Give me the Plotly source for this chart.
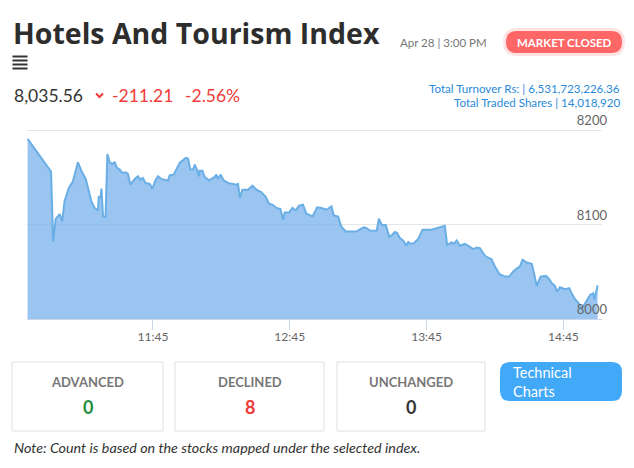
import plotly.graph_objects as go

# ---------------- data ----------------
DATE = "2025-04-28"
times = [
    "10:50:00", "11:00:18", "11:01:12", "11:02:18", "11:04:06", "11:05:12", "11:06:12", "11:08:06",
    "11:09:54", "11:12:06", "11:13:42", "11:15:30", "11:18:00", "11:19:24", "11:20:54", "11:21:12",
    "11:22:00", "11:22:24", "11:23:06", "11:24:12", "11:25:00", "11:26:00", "11:27:12", "11:28:12",
    "11:29:12", "11:30:24", "11:31:36", "11:33:00", "11:34:00", "11:35:06", "11:37:00", "11:38:24",
    "11:39:30", "11:40:36", "11:41:42", "11:43:36", "11:44:42", "11:46:12", "11:47:12", "11:48:42",
    "11:51:36", "11:52:18", "11:54:06", "11:55:18", "11:56:42", "11:59:24", "12:00:24", "12:01:24",
    "12:02:36", "12:03:18", "12:04:18", "12:05:12", "12:05:30", "12:06:42", "12:07:42", "12:09:36",
    "12:12:06", "12:12:48", "12:13:30", "12:14:42", "12:16:00", "12:17:54", "12:21:36", "12:22:18",
    "12:23:06", "12:24:12", "12:26:42", "12:28:36", "12:30:24", "12:32:36", "12:34:30", "12:35:54",
    "12:37:24", "12:39:12", "12:40:54", "12:42:06", "12:42:48", "12:44:42", "12:46:12", "12:47:36",
    "12:49:06", "12:50:48", "12:52:18", "12:55:00", "12:57:00", "12:58:54", "13:01:06", "13:03:18",
    "13:04:18", "13:06:12", "13:07:42", "13:09:36", "13:14:18", "13:15:24", "13:17:30", "13:18:42",
    "13:20:06", "13:23:06", "13:24:06", "13:25:18", "13:27:06", "13:28:36", "13:29:36", "13:31:06",
    "13:32:06", "13:33:18", "13:34:42", "13:36:12", "13:36:54", "13:37:42", "13:39:24", "13:41:18",
    "13:43:12", "13:47:12", "13:48:36", "13:51:36", "13:53:00", "13:54:00", "13:56:00", "13:57:00",
    "13:58:12", "13:59:36", "14:01:48", "14:03:18", "14:05:30", "14:07:00", "14:08:24", "14:09:36",
    "14:11:00", "14:13:30", "14:15:00", "14:16:54", "14:19:24", "14:21:12", "14:23:00", "14:24:48",
    "14:25:54", "14:27:06", "14:28:54", "14:31:06", "14:31:48", "14:33:18", "14:35:00", "14:37:24",
    "14:38:48", "14:39:54", "14:41:18", "14:42:18", "14:43:30", "14:45:42", "14:47:36", "14:48:36",
    "14:50:06", "14:51:30", "14:53:00", "14:53:42", "14:55:30", "14:56:42", "14:58:06", "14:58:36",
    "15:00:00",
]
index_values = [
    8190.7, 8156.0, 8082.0, 8105.8, 8111.1, 8103.2, 8124.5, 8138.7,
    8145.7, 8165.8, 8156.3, 8148.2, 8124.5, 8117.5, 8114.9, 8129.1,
    8129.1, 8137.9, 8108.5, 8107.9, 8174.7, 8165.8, 8164.1, 8165.8,
    8159.9, 8158.1, 8154.6, 8155.2, 8153.5, 8142.2, 8148.2, 8151.0,
    8147.5, 8149.3, 8144.0, 8142.9, 8137.9, 8147.5, 8151.0, 8148.2,
    8146.4, 8152.0, 8152.8, 8158.8, 8165.2, 8170.5, 8169.8, 8158.1,
    8158.1, 8163.4, 8158.1, 8151.0, 8157.0, 8157.0, 8150.3, 8146.7,
    8150.3, 8152.8, 8148.2, 8152.8, 8146.7, 8144.0, 8142.2, 8142.9,
    8128.1, 8136.9, 8136.9, 8141.1, 8136.9, 8134.0, 8129.1, 8122.0,
    8121.0, 8117.5, 8116.4, 8105.0, 8112.8, 8112.8, 8117.5, 8114.9,
    8119.9, 8121.0, 8111.4, 8108.5, 8118.1, 8117.5, 8115.6, 8119.2,
    8109.6, 8108.5, 8097.3, 8092.6, 8092.6, 8094.4, 8096.9, 8096.2,
    8093.7, 8093.4, 8106.1, 8099.7, 8099.4, 8087.3, 8088.4, 8092.0,
    8090.9, 8085.6, 8083.1, 8077.5, 8082.0, 8079.6, 8080.3, 8084.6,
    8094.4, 8094.4, 8095.5, 8097.3, 8098.7, 8078.5, 8081.0, 8079.6,
    8083.1, 8077.5, 8079.6, 8077.5, 8074.0, 8075.6, 8075.0, 8070.3,
    8066.1, 8063.3, 8055.5, 8047.7, 8044.9, 8044.9, 8050.2, 8053.8,
    8055.5, 8062.6, 8059.7, 8058.4, 8052.0, 8035.0, 8044.9, 8045.6,
    8042.1, 8037.9, 8035.0, 8029.0, 8033.6, 8031.5, 8032.6, 8027.3,
    8020.9, 8017.3, 8011.4, 8013.1, 8020.2, 8025.5, 8027.3, 8020.2,
    8035.56,
]
x_tick_times = ["11:45", "12:45", "13:45", "14:45"]
x_tick_labels = ["11:45", "12:45", "13:45", "14:45"]
y_tick_values = [8000, 8100, 8200]
y_tick_labels = ["8000", "8100", "8200"]
y_range = [8000, 8240]

title = "Hotels And Tourism Index"
last_value = "8,035.56"
change_value = "-211.21"
change_pct = "-2.56%"
timestamp = "Apr 28 | 3:00 PM"
status = "MARKET CLOSED"
turnover_text = "Total Turnover Rs: | 6,531,723,226.36"
shares_text = "Total Traded Shares | 14,018,920"
count_labels = ["ADVANCED", "DECLINED", "UNCHANGED"]
count_values = ["0", "8", "0"]
count_colors = ["#1e8e3e", "#f23a3a", "#333333"]
button_text = "Technical<br>Charts"
note_text = "Note: Count is based on the stocks mapped under the selected index."

# ---------------- layout helpers ----------------
W, H = 634, 468


def px(x):
    return x / W


def py(y):
    return 1 - y / H


def rounded_rect(x0, y0, x1, y1, r):
    X = lambda v: px(v)
    Y = lambda v: py(v)
    return (
        f"M {X(x0 + r)} {Y(y0)} L {X(x1 - r)} {Y(y0)} Q {X(x1)} {Y(y0)} {X(x1)} {Y(y0 + r)} "
        f"L {X(x1)} {Y(y1 - r)} Q {X(x1)} {Y(y1)} {X(x1 - r)} {Y(y1)} "
        f"L {X(x0 + r)} {Y(y1)} Q {X(x0)} {Y(y1)} {X(x0)} {Y(y1 - r)} "
        f"L {X(x0)} {Y(y0 + r)} Q {X(x0)} {Y(y0)} {X(x0 + r)} {Y(y0)} Z"
    )


FONT = "Lato"
x_full = [f"{DATE} {t}" for t in times]

fig = go.Figure()
fig.add_trace(
    go.Scatter(
        x=x_full,
        y=index_values,
        mode="lines",
        line=dict(color="#6aaee6", width=2),
        fill="tozeroy",
        fillcolor="rgba(124,181,236,0.78)",
        hoverinfo="skip",
        showlegend=False,
    )
)

shapes = []
annotations = []

# header
annotations.append(dict(x=px(11), y=py(33), xanchor="left", yanchor="middle", text=title,
                        font=dict(family="Open Sans", size=28.5, color="#2d2d2d", weight="bold")))
for yy in [56.5, 60.5, 64.5, 68.5]:
    shapes.append(dict(type="line", x0=px(12.5), x1=px(27.5), y0=py(yy), y1=py(yy),
                       line=dict(color="#333333", width=2)))
annotations.append(dict(x=px(12), y=py(96), xanchor="left", yanchor="middle", text=last_value,
                        font=dict(family=FONT, size=17.5, color="#333333")))
shapes.append(dict(type="path", path=f"M {px(96)} {py(93.5)} L {px(99.5)} {py(97)} L {px(103)} {py(93.5)}",
                   line=dict(color="#f23a3a", width=2)))
annotations.append(dict(x=px(110), y=py(96), xanchor="left", yanchor="middle", text=change_value,
                        font=dict(family=FONT, size=17.5, color="#f23a3a")))
annotations.append(dict(x=px(183), y=py(96), xanchor="left", yanchor="middle", text=change_pct,
                        font=dict(family=FONT, size=17.5, color="#f23a3a")))
annotations.append(dict(x=px(398), y=py(42), xanchor="left", yanchor="middle", text=timestamp,
                        font=dict(family=FONT, size=11.5, color="#777777")))
# status badge with glow
shapes.append(dict(type="path", path=rounded_rect(503, 28, 625, 56, 14),
                   fillcolor="rgba(255,100,100,0.18)", line=dict(width=0)))
shapes.append(dict(type="path", path=rounded_rect(506, 31, 622, 53, 11),
                   fillcolor="#ff6666", line=dict(width=0)))
annotations.append(dict(x=px(564), y=py(42), xanchor="center", yanchor="middle", text=status,
                        font=dict(family=FONT, size=11.5, color="#ffffff", weight="bold")))
annotations.append(dict(x=px(622), y=py(88.6), xanchor="right", yanchor="middle", text=turnover_text,
                        font=dict(family=FONT, size=11.6, color="#2b8ad8")))
annotations.append(dict(x=px(622), y=py(102.7), xanchor="right", yanchor="middle", text=shares_text,
                        font=dict(family=FONT, size=11.6, color="#2b8ad8")))

# count boxes
box_x = [(12, 163), (175, 324), (337, 485)]
for (x0, x1), lab, val, col in zip(box_x, count_labels, count_values, count_colors):
    shapes.append(dict(type="rect", x0=px(x0), x1=px(x1), y0=py(362), y1=py(431),
                       line=dict(color="#e0e0e0", width=1), fillcolor="#ffffff"))
    cx = px((x0 + x1) / 2)
    annotations.append(dict(x=cx, y=py(382), xanchor="center", yanchor="middle", text=lab,
                            font=dict(family=FONT, size=13, color="#777777", weight="bold")))
    annotations.append(dict(x=cx, y=py(407), xanchor="center", yanchor="middle", text=val,
                            font=dict(family=FONT, size=18, color=col, weight="bold")))

shapes.append(dict(type="path", path=rounded_rect(500, 362, 622, 401, 10),
                   fillcolor="#42a8f8", line=dict(width=0)))
annotations.append(dict(x=px(511), y=py(381.5), xanchor="left", yanchor="middle", text=button_text,
                        align="left", font=dict(family=FONT, size=14.5, color="#ffffff")))
annotations.append(dict(x=px(12), y=py(447), xanchor="left", yanchor="middle", text=f"<i>{note_text}</i>",
                        font=dict(family=FONT, size=14.3, color="#333333")))

for a in annotations:
    a.update(xref="paper", yref="paper", showarrow=False)
for s in shapes:
    s.update(xref="paper", yref="paper", layer="above" if s.get("type") != "rect" else "below")

# y pixel scale: 8000 at y=319, 8200 at y=130
px_per_unit = (319 - 130) / 200
top_px = 319 - (y_range[1] - y_range[0]) * px_per_unit

fig.update_layout(
    width=W, height=H,
    margin=dict(l=0, r=0, t=0, b=0),
    paper_bgcolor="rgba(0,0,0,0)", plot_bgcolor="rgba(0,0,0,0)",
    shapes=shapes, annotations=annotations,
    xaxis=dict(
        domain=[px(27), px(602)],
        range=[f"{DATE} 10:49:45", f"{DATE} 15:01:56"],
        tickvals=[f"{DATE} {t}:00" for t in x_tick_times],
        ticktext=x_tick_labels,
        showgrid=False, zeroline=False,
        showline=True, linecolor="#ccd6eb", linewidth=1,
        ticks="outside", ticklen=10, tickcolor="#ccd6eb",
        ticklabelstandoff=-3,
        tickfont=dict(family=FONT, size=12, color="#666666"),
        fixedrange=True,
    ),
    yaxis=dict(
        domain=[py(319), py(top_px)],
        range=y_range,
        side="right",
        tickvals=y_tick_values, ticktext=y_tick_labels,
        ticklabelposition="inside top",
        ticklabelstandoff=-8,
        showgrid=True, gridcolor="#e6e6e6", gridwidth=1,
        zeroline=False, showline=False, ticks="",
        tickfont=dict(family=FONT, size=13, color="#666666"),
        fixedrange=True,
    ),
    hovermode=False,
)

fig.write_html("out.html")
